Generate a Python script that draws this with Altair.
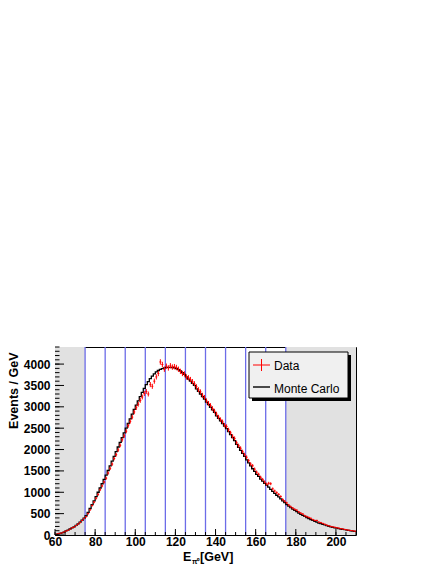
import altair as alt
import pandas as pd
import numpy as np

# ---- data (1 GeV bins, 60..210 GeV) ----
bin_low = list(range(60, 210))
mc_counts = [
    15, 25, 38, 52, 68, 95, 115, 140, 165, 190,
    225, 260, 300, 345, 395, 450, 530, 620, 710, 800,
    900, 1000, 1100, 1200, 1300, 1400, 1510, 1620, 1730, 1840,
    1950, 2060, 2170, 2280, 2390, 2500, 2610, 2720, 2830, 2940,
    3040, 3140, 3240, 3340, 3430, 3520, 3590, 3660, 3720, 3770,
    3820, 3850, 3875, 3895, 3910, 3922, 3925, 3925, 3920, 3912,
    3895, 3870, 3840, 3800, 3760, 3700, 3650, 3600, 3550, 3500,
    3420, 3360, 3300, 3240, 3180, 3110, 3050, 2990, 2930, 2870,
    2790, 2730, 2670, 2610, 2550, 2490, 2420, 2350, 2280, 2210,
    2120, 2050, 1980, 1910, 1840, 1760, 1690, 1620, 1550, 1490,
    1420, 1370, 1310, 1260, 1210, 1165, 1120, 1070, 1020, 975,
    930, 890, 845, 800, 760, 710, 675, 640, 605, 575,
    545, 515, 485, 460, 435, 410, 385, 360, 340, 320,
    300, 280, 265, 250, 235, 220, 205, 190, 180, 170,
    160, 150, 140, 132, 125, 115, 108, 100, 92, 85,
]
data_counts = [
    18, 30, 40, 50, 70, 92, 110, 135, 170, 185,
    220, 255, 290, 340, 385, 430, 500, 590, 690, 770,
    860, 950, 1060, 1150, 1240, 1330, 1450, 1560, 1660, 1790,
    1880, 1990, 2100, 2230, 2320, 2430, 2560, 2660, 2760, 2880,
    2980, 3060, 3150, 3230, 3310, 3360, 3300, 3520, 3480, 3600,
    3700, 3780, 4050, 3990, 3880, 3950, 3910, 3960, 3930, 3940,
    3920, 3880, 3830, 3780, 3770, 3700, 3680, 3640, 3590, 3540,
    3470, 3400, 3350, 3270, 3220, 3140, 3080, 3030, 2960, 2900,
    2830, 2760, 2700, 2650, 2570, 2540, 2460, 2390, 2310, 2260,
    2160, 2090, 2030, 1950, 1880, 1820, 1740, 1660, 1620, 1540,
    1470, 1420, 1350, 1300, 1240, 1190, 1210, 1200, 1080, 1030,
    990, 950, 900, 830, 790, 750, 700, 660, 630, 600,
    580, 540, 510, 490, 450, 430, 410, 390, 360, 340,
    340, 300, 290, 270, 250, 230, 215, 200, 190, 180,
    170, 160, 150, 140, 130, 120, 112, 105, 98, 90,
]
blue_lines = [75, 85, 95, 105, 115, 125, 135, 145, 155, 165, 175]
shade_from = [60, 175]
shade_to = [75, 210]
x_major = [60, 80, 100, 120, 140, 160, 180, 200]
x_minor = list(range(60, 211, 5))
y_major = [0, 500, 1000, 1500, 2000, 2500, 3000, 3500, 4000]
y_minor = list(range(0, 4401, 100))
x_dom = [60, 210]
y_dom = [0, 4400]

FONT = "Liberation Sans"
W, H = 301, 188

hist = pd.DataFrame({
    "lo": bin_low,
    "hi": [b + 1 for b in bin_low],
    "center": [b + 0.5 for b in bin_low],
    "mc": mc_counts,
    "data": data_counts,
})
hist["err_lo"] = hist["data"] - np.sqrt(hist["data"])
hist["err_hi"] = hist["data"] + np.sqrt(hist["data"])

step = pd.DataFrame({
    "edge": bin_low + [x_dom[1]],
    "mc": mc_counts + [mc_counts[-1]],
})
lines_df = pd.DataFrame({"x": blue_lines})
shade_df = pd.DataFrame({"a": shade_from, "b": shade_to})
one = pd.DataFrame({"k": [0]})

xs = alt.Scale(domain=x_dom, nice=False, zero=False)
ys = alt.Scale(domain=y_dom, nice=False, zero=False)

shade = alt.Chart(shade_df).mark_rect(color="#e1e1e1").encode(
    x=alt.X("a:Q", scale=xs, axis=None),
    x2="b:Q",
    y=alt.Y(datum=y_dom[0], scale=ys, axis=None),
    y2=alt.Y2(datum=y_dom[1]),
)

blue = alt.Chart(lines_df).mark_rule(color="#6c6ce8", strokeWidth=1.3).encode(
    x=alt.X("x:Q", scale=xs, axis=None),
    y=alt.Y(datum=y_dom[0], scale=ys, axis=None),
    y2=alt.Y2(datum=y_dom[1]),
)

main_x_axis = alt.Axis(
    orient="bottom", values=x_major, ticks=False, tickSize=0, domain=False,
    grid=False, labelPadding=1, labelFont=FONT, labelFontSize=12,
    labelFontWeight="bold", labelColor="black", title=None,
    labelFlush=False, labelOverlap=False, format="d",
)
main_y_axis = alt.Axis(
    orient="left", values=y_major, ticks=False, tickSize=0, domain=False,
    grid=False, labelPadding=5, labelFont=FONT, labelFontSize=12,
    labelFontWeight="bold", labelColor="black", labelFlush=False,
    labelOverlap=False, format="d",
    title="Events / GeV", titleFont=FONT, titleFontSize=12.5,
    titleFontWeight="bold", titleColor="black", titleAngle=270,
    titleAlign="right", titleBaseline="middle", titleX=-42, titleY=5,
)

mc_line = alt.Chart(step).mark_line(
    interpolate="step-after", color="black", strokeWidth=1.3
).encode(
    x=alt.X("edge:Q", scale=xs, axis=main_x_axis),
    y=alt.Y("mc:Q", scale=ys, axis=main_y_axis),
)

err_v = alt.Chart(hist).mark_rule(color="#ff0000", strokeWidth=1).encode(
    x=alt.X("center:Q", scale=xs, axis=None),
    y=alt.Y("err_lo:Q", scale=ys, axis=None),
    y2="err_hi:Q",
)
err_h = alt.Chart(hist).mark_rule(color="#ff0000", strokeWidth=1).encode(
    x=alt.X("lo:Q", scale=xs, axis=None),
    x2="hi:Q",
    y=alt.Y("data:Q", scale=ys, axis=None),
)


# inward-pointing axis ticks (ROOT style), placed through the scales
def x_ticks(values, size):
    return alt.Chart(pd.DataFrame({"v": values})).mark_rule(
        color="black", strokeWidth=1
    ).encode(
        x=alt.X("v:Q", scale=xs, axis=None),
        y=alt.value(H), y2=alt.value(H - size),
    )


def y_ticks(values, size):
    return alt.Chart(pd.DataFrame({"v": values})).mark_rule(
        color="black", strokeWidth=1
    ).encode(
        y=alt.Y("v:Q", scale=ys, axis=None),
        x=alt.value(0), x2=alt.value(size),
    )


tx_major = x_ticks(x_major, 6)
tx_minor = x_ticks(x_minor, 3)
ty_major = y_ticks(y_major, 9)
ty_minor = y_ticks(y_minor, 4.5)

# x-axis title  E_{pi0} [GeV]
title_E = alt.Chart(one).mark_text(
    text="E", font=FONT, fontSize=12.5, fontWeight="bold", align="left",
    baseline="alphabetic", color="black",
).encode(x=alt.value(128), y=alt.value(214))
title_pi = alt.Chart(one).mark_text(
    text="π⁰", font=FONT, fontSize=7, fontWeight="bold", align="left",
    baseline="alphabetic", color="black",
).encode(x=alt.value(137), y=alt.value(217))
title_gev = alt.Chart(one).mark_text(
    text="[GeV]", font=FONT, fontSize=12.5, fontWeight="bold", align="left",
    baseline="alphabetic", color="black",
).encode(x=alt.value(145), y=alt.value(214))

# legend box with shadow
leg_shadow = alt.Chart(one).mark_rect(color="black").encode(
    x=alt.value(197), x2=alt.value(296), y=alt.value(8), y2=alt.value(54)
)
leg_box = alt.Chart(one).mark_rect(
    fill="#f0f0f0", stroke="black", strokeWidth=1
).encode(x=alt.value(194), x2=alt.value(293), y=alt.value(5), y2=alt.value(51))
leg_cross_h = alt.Chart(one).mark_rule(color="#ff0000", strokeWidth=1).encode(
    x=alt.value(198), x2=alt.value(215), y=alt.value(18)
)
leg_cross_v = alt.Chart(one).mark_rule(color="#ff0000", strokeWidth=1).encode(
    x=alt.value(206.5), y=alt.value(12), y2=alt.value(24)
)
leg_mc = alt.Chart(one).mark_rule(color="black", strokeWidth=1.4).encode(
    x=alt.value(198), x2=alt.value(215), y=alt.value(40)
)
leg_t1 = alt.Chart(one).mark_text(
    text="Data", font=FONT, fontSize=12, align="left", baseline="alphabetic",
    color="black",
).encode(x=alt.value(219), y=alt.value(23))
leg_t2 = alt.Chart(one).mark_text(
    text="Monte Carlo", font=FONT, fontSize=12, align="left",
    baseline="alphabetic", color="black",
).encode(x=alt.value(219), y=alt.value(46))

chart = alt.layer(
    shade, blue, mc_line, err_v, err_h,
    tx_major, tx_minor, ty_major, ty_minor,
    title_E, title_pi, title_gev,
    leg_shadow, leg_box, leg_cross_h, leg_cross_v, leg_mc, leg_t1, leg_t2,
).resolve_scale(x="shared", y="shared").resolve_axis(
    x="independent", y="independent"
).properties(
    width=W, height=H,
    autosize=alt.AutoSizeParams(type="none"),
    padding={"left": 47, "top": 339, "right": 20, "bottom": 30},
    background="white",
).configure_view(stroke="black", strokeWidth=1)

chart.save("out.html", embed_options={"renderer": "svg", "actions": False})
